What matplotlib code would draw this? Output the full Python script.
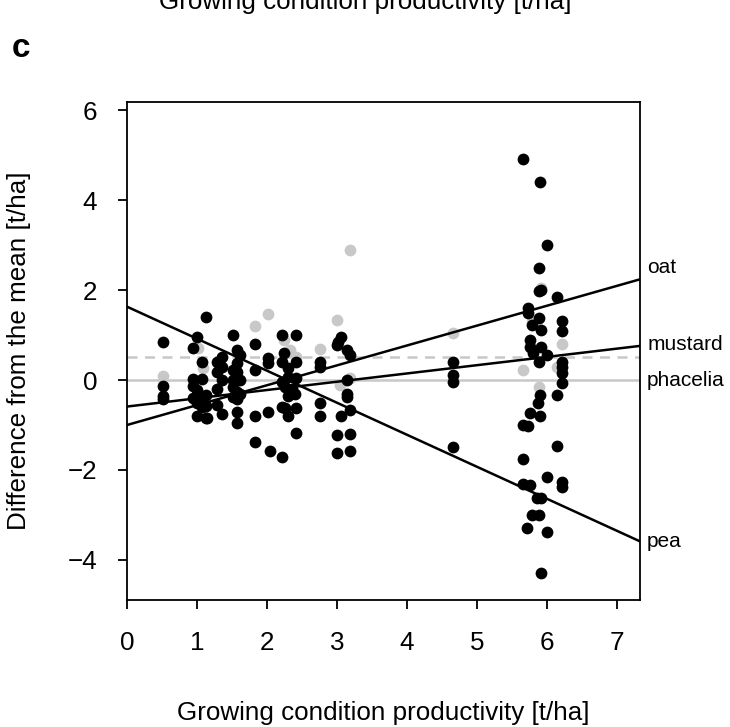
import numpy as np
import matplotlib
matplotlib.use("Agg")
import matplotlib.pyplot as plt

plt.rcParams['font.family'] = ['Liberation Sans', 'DejaVu Sans']

# black points: black species observations (x = growing condition productivity, y = difference)
black_x = [0.51, 0.51, 0.51, 0.51,
           1.13, 1.00, 0.94, 1.07, 0.94, 1.07, 0.94, 1.00, 0.94, 1.07, 1.13, 1.00, 1.13, 1.07, 1.00, 1.13,
           1.28, 1.35, 1.28, 1.35, 1.35, 1.28, 1.28, 1.35, 1.14,
           1.52, 1.57, 1.61, 1.57, 1.52, 1.57, 1.61, 1.52, 1.52, 1.57, 1.61, 1.52, 1.57, 1.57, 1.57,
           1.83, 1.83, 1.83, 1.83,
           2.02, 2.02, 2.02, 2.04,
           2.21, 2.41, 2.24, 2.21, 2.30, 2.41, 2.21, 2.30, 2.41, 2.25, 2.35, 2.40, 2.30, 2.21, 2.26,
           2.30, 2.41, 2.41, 2.21,
           2.75, 2.75, 2.75, 2.75,
           3.05, 3.00, 3.14, 3.19, 3.14, 3.14, 3.14, 3.19, 3.05, 3.00, 3.19, 3.00, 3.19, 3.02,
           4.66, 4.66, 4.66, 4.66,
           5.66, 5.90, 6.00, 5.89, 5.88, 5.92, 6.14, 5.73, 5.73, 5.78, 5.88, 5.92, 6.21, 6.21,
           5.76, 5.76, 5.92, 5.80, 6.00, 5.88, 6.21, 6.21, 6.21, 6.21, 5.90, 5.87, 6.14, 5.76,
           5.90, 5.66, 5.73, 6.14, 5.66, 6.00, 5.66, 5.76, 6.21, 6.21, 5.85, 5.91, 5.78, 5.89,
           5.72, 6.00, 5.91]
black_y = [0.84, -0.13, -0.35, -0.42,
           1.39, 0.95, 0.72, 0.39, 0.02, 0.02, -0.13, -0.22, -0.41, -0.37, -0.33, -0.52, -0.58, -0.59, -0.80, -0.84,
           0.39, 0.52, 0.18, 0.30, 0.01, -0.19, -0.56, -0.76, -0.85,
           1.00, 0.67, 0.56, 0.37, 0.22, 0.18, 0.00, 0.00, -0.16, -0.26, -0.30, -0.37, -0.42, -0.70, -0.95,
           0.81, 0.22, -0.80, -1.37,
           0.50, 0.37, -0.70, -1.57,
           1.00, 1.00, 0.59, 0.41, 0.26, 0.41, -0.04, 0.07, 0.04, -0.15, -0.20, -0.30, -0.35, -0.59, -0.63,
           -0.80, -0.63, -1.17, -1.72,
           0.41, 0.30, -0.52, -0.81,
           0.96, 0.78, 0.67, 0.56, 0.00, -0.30, -0.37, -0.67, -0.81, -1.22, -1.19, -1.63, -1.57, 0.85,
           0.41, 0.11, -0.04, -1.50,
           4.91, 4.41, 3.01, 2.50, 1.98, 2.00, 1.85, 1.59, 1.50, 1.22, 1.37, 1.11, 1.32, 1.10,
           0.90, 0.74, 0.73, 0.59, 0.56, 0.41, 0.41, 0.30, 0.15, -0.06, -0.33, -0.52, -0.33, -0.74,
           -0.79, -1.01, -1.02, -1.47, -1.76, -2.15, -2.31, -2.33, -2.26, -2.37, -2.63, -2.63, -3.00, -2.99,
           -3.28, -3.37, -4.30]

# grey points (phacelia, drawn underneath)
grey_x = [0.51, 1.02, 1.09, 1.83, 2.02, 2.24, 2.33, 2.42, 2.75, 3.00, 3.19, 3.19, 3.04,
          4.66, 5.66, 5.78, 5.92, 6.21, 6.14, 5.88]
grey_y = [0.09, 0.72, 0.27, 1.20, 1.47, 0.89, 0.67, 0.52, 0.68, 1.33, 2.89, 0.04, -0.11,
          1.04, 0.22, 1.28, 2.04, 0.81, 0.30, -0.16]

# fitted lines: intercept, slope
species = ['oat', 'mustard', 'phacelia', 'pea']
intercepts = [-1.00, -0.59, 0.0, 1.63]
slopes = [0.442, 0.184, 0.0, -0.712]
label_y = [2.49, 0.78, 0.0, -3.59]
mean_ref = 0.52

xmax = 7.33
fig = plt.figure(figsize=(7.3, 7.27), dpi=100)
ax = fig.add_axes([0.174, 0.1747, 0.703, 0.685])

grey = '#c8c8c8'
ax.scatter(grey_x, grey_y, s=72, color=grey, linewidths=0, zorder=2)
ax.scatter(black_x, black_y, s=72, color='black', linewidths=0, zorder=3)

xx = np.array([0, xmax])
ax.axhline(mean_ref, color=grey, lw=1.8, ls=(0, (4, 3)), zorder=1)
for sp, a, b in zip(species, intercepts, slopes):
    if sp == 'phacelia':
        ax.plot(xx, a + b * xx, color=grey, lw=1.8, zorder=1)
    else:
        ax.plot(xx, a + b * xx, color='black', lw=1.8, zorder=4)

for sp, ly in zip(species, label_y):
    ax.annotate(sp, xy=(1.0, ly), xycoords=('axes fraction', 'data'),
                xytext=(5, 0), textcoords='offset points',
                ha='left', va='center', fontsize=15, annotation_clip=False)

ax.set_xlim(0, xmax)
ax.set_ylim(-4.89, 6.18)
ax.set_xticks(range(0, 8))
ax.set_yticks([-4, -2, 0, 2, 4, 6])
ax.tick_params(direction='out', length=6.5, width=1.3, labelsize=18.7, pad=15, color='black')
ax.tick_params(axis='x', pad=16)
for s in ax.spines.values():
    s.set_linewidth(1.3)

ax.set_xlabel('Growing condition productivity [t/ha]', fontsize=18.7, labelpad=33)
ax.set_ylabel('Difference from the mean [t/ha]', fontsize=18.7, labelpad=26)

# cut-off axis title of the panel above, and panel letter
fig.text(0.5, 1 - 9 / 727, 'Growing condition productivity [t/ha]', ha='center',
         va='baseline', fontsize=18.7)
fig.text(0.016, 1 - 57 / 727, 'c', ha='left', va='baseline', fontsize=24, fontweight='bold')

fig.savefig('out.png', dpi=100)
